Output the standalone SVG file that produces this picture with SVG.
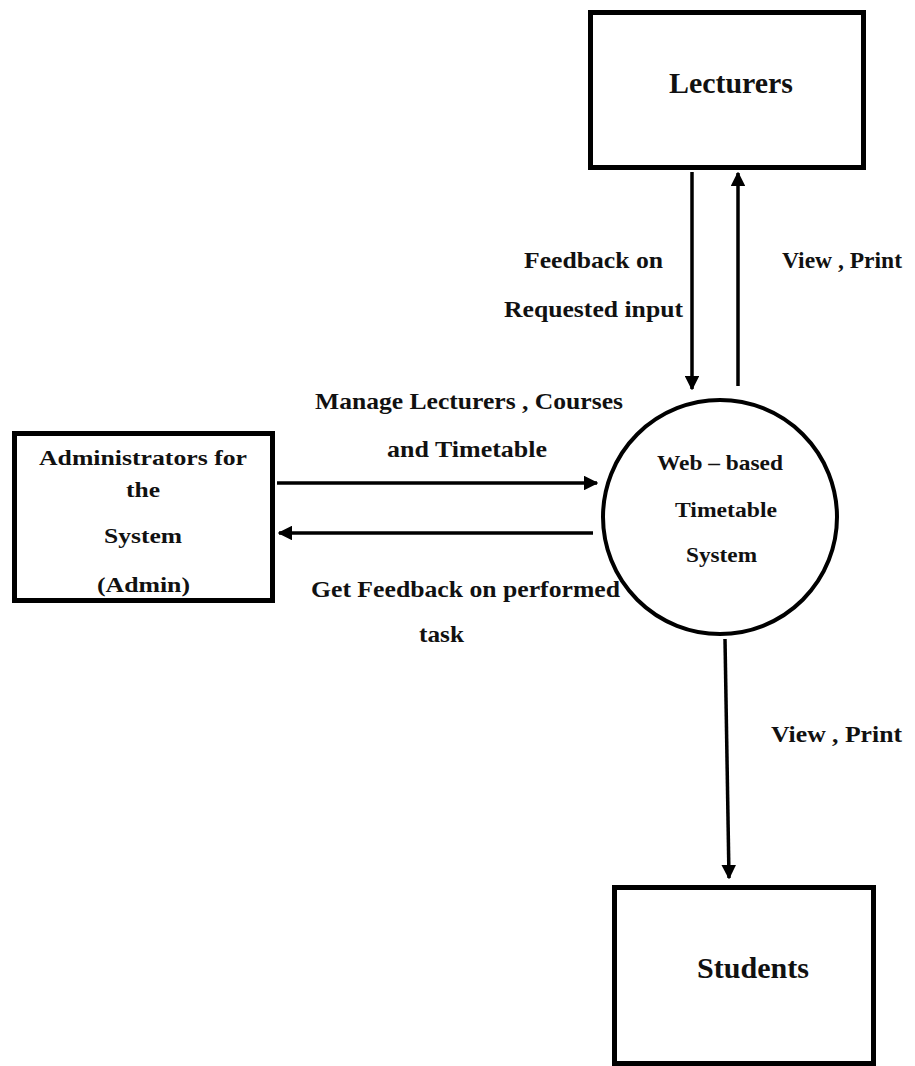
<svg xmlns="http://www.w3.org/2000/svg" width="915" height="1066" viewBox="0 0 915 1066">
<style>
.box{fill:#fff;stroke:#000;stroke-width:5}
.circ{fill:#fff;stroke:#000;stroke-width:4}
.t{font-family:"Liberation Serif","Times New Roman",serif;font-weight:bold;fill:#111}
.lbl{font-size:24px}
.big{font-size:30px}
.mid{font-size:22px}
.flow{stroke:#000;stroke-width:3.5;fill:none}
</style>
<defs>
<marker id="ah" viewBox="0 0 10 10" refX="9" refY="5" markerWidth="4.2" markerHeight="4.2" orient="auto" markerUnits="strokeWidth">
<path d="M0,0 L10,5 L0,10 z" fill="#000"/>
</marker>
</defs>
<rect width="915" height="1066" fill="#fff"/>
<g id="lecturers">
<rect class="box" x="590.5" y="12.5" width="273" height="155"/>
<text class="t big" x="669" y="93" textLength="124" lengthAdjust="spacingAndGlyphs">Lecturers</text>
</g>
<g id="admin">
<rect class="box" x="14.5" y="433.5" width="258" height="167"/>
<text class="t mid" x="39" y="465" textLength="208" lengthAdjust="spacingAndGlyphs">Administrators for</text>
<text class="t mid" x="126" y="497" textLength="34" lengthAdjust="spacingAndGlyphs">the</text>
<text class="t mid" x="104" y="543" textLength="78" lengthAdjust="spacingAndGlyphs">System</text>
<text class="t mid" x="97" y="592" textLength="93" lengthAdjust="spacingAndGlyphs">(Admin)</text>
</g>
<g id="system">
<circle class="circ" cx="720" cy="517" r="117"/>
<text class="t mid" x="657" y="470" textLength="126" lengthAdjust="spacingAndGlyphs">Web – based</text>
<text class="t mid" x="675" y="517" textLength="102" lengthAdjust="spacingAndGlyphs">Timetable</text>
<text class="t mid" x="686" y="562" textLength="71" lengthAdjust="spacingAndGlyphs">System</text>
</g>
<g id="students">
<rect class="box" x="614.5" y="887.5" width="259" height="176"/>
<text class="t big" x="697" y="978" textLength="112" lengthAdjust="spacingAndGlyphs">Students</text>
</g>
<g id="connectors">
<line class="flow" x1="692" y1="172" x2="692" y2="389" marker-end="url(#ah)"/>
<line class="flow" x1="738" y1="386" x2="738" y2="173" marker-end="url(#ah)"/>
<line class="flow" x1="277" y1="483" x2="597" y2="483" marker-end="url(#ah)"/>
<line class="flow" x1="593" y1="533" x2="279" y2="533" marker-end="url(#ah)"/>
<line class="flow" x1="725" y1="639" x2="729" y2="878" marker-end="url(#ah)"/>
</g>
<g id="labels">
<text class="t lbl" x="524" y="268" textLength="139" lengthAdjust="spacingAndGlyphs">Feedback on</text>
<text class="t lbl" x="504" y="317" textLength="179" lengthAdjust="spacingAndGlyphs">Requested input</text>
<text class="t lbl" x="782" y="268" textLength="120" lengthAdjust="spacingAndGlyphs">View , Print</text>
<text class="t lbl" x="315" y="409" textLength="308" lengthAdjust="spacingAndGlyphs">Manage Lecturers , Courses</text>
<text class="t lbl" x="387" y="457" textLength="160" lengthAdjust="spacingAndGlyphs">and Timetable</text>
<text class="t lbl" x="311" y="597" textLength="309" lengthAdjust="spacingAndGlyphs">Get Feedback on performed</text>
<text class="t lbl" x="419" y="642" textLength="45" lengthAdjust="spacingAndGlyphs">task</text>
<text class="t lbl" x="771" y="742" textLength="131" lengthAdjust="spacingAndGlyphs">View , Print</text>
</g>
</svg>
